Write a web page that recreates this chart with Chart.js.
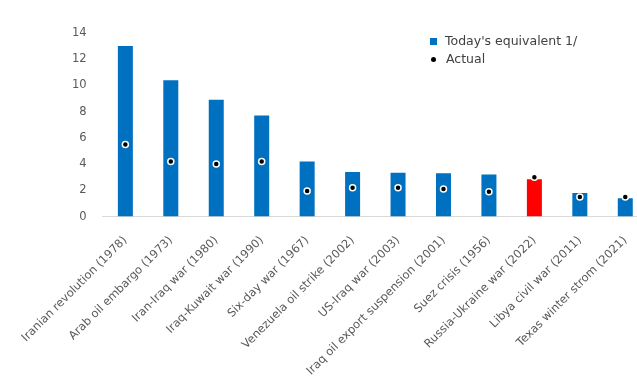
<!DOCTYPE html>
<html>
<head>
<meta charset="utf-8">
<script src="https://cdn.jsdelivr.net/npm/chart.js@4.4.1/dist/chart.umd.min.js"></script>
<style>
  html, body { margin: 0; padding: 0; background: #ffffff; overflow: hidden; }
  #wrap { position: relative; width: 637px; height: 381px; overflow: hidden; }
  #c { position: absolute; left: 0; top: 0; }
  #legend { position: absolute; left: 430px; top: 32px; font-family: "DejaVu Sans", sans-serif; font-size: 12.5px; color: #404040; line-height: 18px; }
  .li { display: flex; align-items: center; }
  .sq { width: 7px; height: 7px; background: #0070C0; margin-right: 8px; }
  .dot { width: 5px; height: 5px; border-radius: 50%; background: #000; margin: 0 10px 0 1px; }
</style>
</head>
<body>
<div id="wrap">
  <canvas id="c" width="660" height="387"></canvas>
  <div id="legend">
    <div class="li"><span class="sq"></span><span>Today's equivalent 1/</span></div>
    <div class="li"><span class="dot"></span><span>Actual</span></div>
  </div>
</div>
<script>
const categories = [
  "Iranian revolution (1978)",
  "Arab oil embargo (1973)",
  "Iran-Iraq war (1980)",
  "Iraq-Kuwait war (1990)",
  "Six-day war (1967)",
  "Venezuela oil strike (2002)",
  "US-Iraq war (2003)",
  "Iraq oil export suspension (2001)",
  "Suez crisis (1956)",
  "Russia-Ukraine war (2022)",
  "Libya civil war (2011)",
  "Texas winter strom (2021)"
];
const todaysEquivalent = [13.0, 10.4, 8.9, 7.7, 4.2, 3.4, 3.35, 3.3, 3.2, 2.85, 1.8, 1.4];
const actual = [5.5, 4.2, 4.0, 4.2, 1.95, 2.2, 2.2, 2.1, 1.9, 3.0, 1.5, 1.5];
const yTicks = [0, 2, 4, 6, 8, 10, 12, 14];
const barColors = categories.map((c, i) => i === 9 ? "#FF0000" : "#0070C0");

const tickFont = { family: "DejaVu Sans", size: 11.5 };
new Chart(document.getElementById("c"), {
  type: "bar",
  data: {
    labels: categories,
    datasets: [
      {
        type: "line",
        label: "Actual",
        data: actual,
        showLine: false,
        pointRadius: 3,
        pointBackgroundColor: "#000000",
        pointBorderColor: "#ffffff",
        pointBorderWidth: 1.5,
        order: 0
      },
      {
        type: "bar",
        label: "Today's equivalent 1/",
        data: todaysEquivalent,
        backgroundColor: barColors,
        categoryPercentage: 1.0,
        barPercentage: 0.33,
        order: 1
      }
    ]
  },
  options: {
    responsive: false,
    animation: false,
    layout: { padding: { left: 64, right: 12, top: 33, bottom: 0 } },
    plugins: { legend: { display: false }, tooltip: { enabled: false } },
    scales: {
      x: {
        grid: { display: false },
        border: { display: true, color: "#d9d9d9" },
        ticks: { color: "#595959", font: tickFont, minRotation: 45, maxRotation: 45, autoSkip: false, padding: 9 }
      },
      y: {
        min: 0, max: 14,
        afterBuildTicks: (axis) => { axis.ticks = yTicks.map(v => ({ value: v })); },
        grid: { display: false },
        border: { display: false },
        ticks: { color: "#595959", font: tickFont, padding: 8 }
      }
    }
  }
});
</script>
</body>
</html>
